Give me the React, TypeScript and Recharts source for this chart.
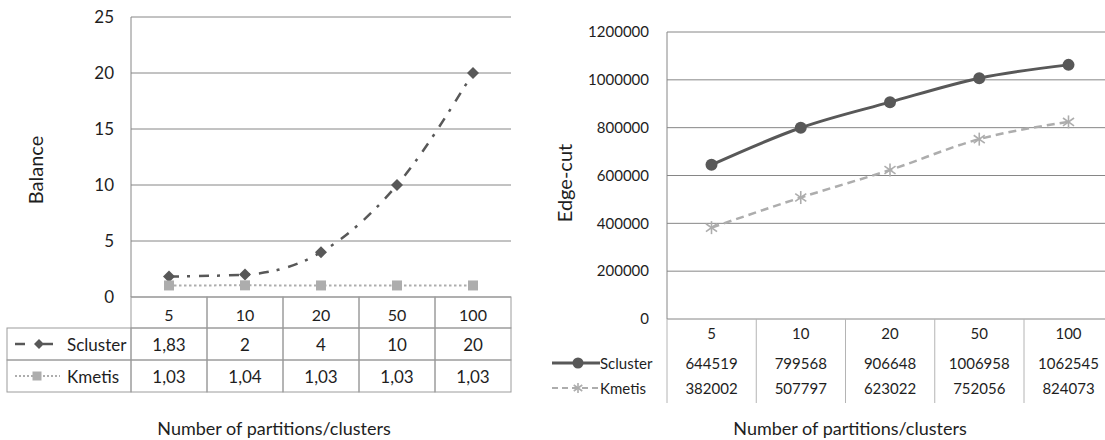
import { LineChart, Line, XAxis, YAxis, CartesianGrid } from "recharts";

const categories = ["5", "10", "20", "50", "100"];
const seriesNames = ["Scluster", "Kmetis"];

// Balance chart (left)
const balanceScluster = [1.83, 2, 4, 10, 20];
const balanceKmetis = [1.03, 1.04, 1.03, 1.03, 1.03];
const balanceTicks = [0, 5, 10, 15, 20, 25];

// Edge-cut chart (right)
const edgeScluster = [644519, 799568, 906648, 1006958, 1062545];
const edgeKmetis = [382002, 507797, 623022, 752056, 824073];
const edgeTicks = [0, 200000, 400000, 600000, 800000, 1000000, 1200000];

const FONT = "Lato, 'Open Sans', sans-serif";
const TEXT = "#1e1e1e";
const GRID = "#868686";
const DARK = "#585858";
const LIGHT = "#adadad";

const balanceData = categories.map((c, i) => ({
  cat: c,
  scluster: balanceScluster[i],
  kmetis: balanceKmetis[i],
}));

const edgeData = categories.map((c, i) => ({
  cat: c,
  scluster: edgeScluster[i],
  kmetis: edgeKmetis[i],
}));

const comma = (v: number) => String(v).replace(".", ",");

const Diamond = ({ cx, cy, s = 6 }: any) => (
  <path d={`M${cx},${cy - s} L${cx + s},${cy} L${cx},${cy + s} L${cx - s},${cy} Z`} fill={DARK} />
);

const Square = ({ cx, cy, s = 5 }: any) => (
  <rect x={cx - s} y={cy - s} width={s * 2} height={s * 2} fill={LIGHT} />
);

const Dot = ({ cx, cy }: any) => <circle cx={cx} cy={cy} r={6} fill={DARK} />;

const Star = ({ cx, cy, s = 6.5 }: any) => (
  <g stroke={LIGHT} strokeWidth={1.6}>
    <line x1={cx} y1={cy - s} x2={cx} y2={cy + s} />
    <line x1={cx - s * 0.85} y1={cy - s * 0.6} x2={cx + s * 0.85} y2={cy + s * 0.6} />
    <line x1={cx - s * 0.85} y1={cy + s * 0.6} x2={cx + s * 0.85} y2={cy - s * 0.6} />
  </g>
);

// x-axis tick that draws the data table column under each category (left chart)
const BalanceTick = (props: any) => {
  const { x, y, payload, index } = props;
  const w = 76;
  const border = "#9c9c9c";
  const rows = [balanceScluster[index], balanceKmetis[index]];
  return (
    <g fontFamily={FONT} fill={TEXT}>
      <rect x={x - w / 2} y={y} width={w} height={31} fill="none" stroke={border} />
      <rect x={x - w / 2} y={y + 31} width={w} height={32} fill="none" stroke={border} />
      <rect x={x - w / 2} y={y + 63} width={w} height={32} fill="none" stroke={border} />
      <text x={x} y={y + 17} textAnchor="middle" dominantBaseline="central" fontSize={16}>
        {payload.value}
      </text>
      {rows.map((v, r) => (
        <text key={r} x={x} y={y + 47 + r * 32} textAnchor="middle" dominantBaseline="central" fontSize={17}>
          {comma(v)}
        </text>
      ))}
      {index === 0 && (
        <g>
          <rect x={7} y={y + 31} width={x - w / 2 - 7} height={32} fill="none" stroke={border} />
          <rect x={7} y={y + 63} width={x - w / 2 - 7} height={32} fill="none" stroke={border} />
          <line x1={15} y1={y + 47} x2={25} y2={y + 47} stroke={DARK} strokeWidth={2.5} />
          <line x1={43} y1={y + 47} x2={53} y2={y + 47} stroke={DARK} strokeWidth={2.5} />
          <Diamond cx={39} cy={y + 47} s={5} />
          <line x1={15} y1={y + 79} x2={60} y2={y + 79} stroke={LIGHT} strokeWidth={2} strokeDasharray="2 2" />
          <Square cx={37} cy={y + 79} s={4.5} />
          {seriesNames.map((n, r) => (
            <text key={n} x={67} y={y + 47 + r * 32} dominantBaseline="central" fontSize={17}>
              {n}
            </text>
          ))}
        </g>
      )}
    </g>
  );
};

// x-axis tick with the data table for the right chart (vertical dividers only)
const EdgeTick = (props: any) => {
  const { x, y, payload, index } = props;
  const w = 89;
  const border = "#b4b4b4";
  const rows = [edgeScluster[index], edgeKmetis[index]];
  return (
    <g fontFamily={FONT} fill={TEXT}>
      <line x1={x - w / 2} y1={y} x2={x - w / 2} y2={y + 84} stroke={border} />
      <text x={x} y={y + 14} textAnchor="middle" dominantBaseline="central" fontSize={15}>
        {payload.value}
      </text>
      {rows.map((v, r) => (
        <text key={r} x={x} y={y + 44 + r * 25} textAnchor="middle" dominantBaseline="central" fontSize={15}>
          {v}
        </text>
      ))}
      {index === 0 && (
        <g>
          <line x1={-3} y1={y + 28} x2={-3} y2={y + 81} stroke={border} />
          <line x1={2} y1={y + 44} x2={50} y2={y + 44} stroke={DARK} strokeWidth={3} />
          <circle cx={28} cy={y + 44} r={5.5} fill={DARK} />
          <line x1={2} y1={y + 69} x2={50} y2={y + 69} stroke={LIGHT} strokeWidth={2} strokeDasharray="6 4" />
          <Star cx={28} cy={y + 69} s={5} />
          {seriesNames.map((n, r) => (
            <text key={n} x={50} y={y + 44 + r * 25} dominantBaseline="central" fontSize={15}>
              {n}
            </text>
          ))}
        </g>
      )}
    </g>
  );
};

const titleStyle: any = {
  position: "absolute",
  fontFamily: FONT,
  fontSize: 18,
  color: TEXT,
  whiteSpace: "nowrap",
  transform: "translate(-50%, -50%)",
};

export default function App() {
  return (
    <div style={{ position: "absolute", left: 0, top: 0, width: 1105, height: 440, background: "#fff", overflow: "hidden" }}>
      <div style={{ position: "absolute", left: 0, top: 0 }}>
        <LineChart width={550} height={440} data={balanceData} margin={{ top: 17, right: 39, bottom: 48, left: 71 }}>
          <CartesianGrid vertical={false} stroke={GRID} />
          <XAxis
            dataKey="cat"
            interval={0}
            padding={{ left: 38, right: 38 }}
            axisLine={false}
            tickLine={false}
            tickSize={0}
            tickMargin={0}
            height={95}
            tick={(p: any) => <BalanceTick {...p} />}
          />
          <YAxis
            width={60}
            domain={[0, 25]}
            ticks={balanceTicks}
            axisLine={{ stroke: GRID }}
            tickLine={false}
            tickSize={0}
            tickMargin={17}
            tick={{ fill: TEXT, fontSize: 17, fontFamily: FONT }}
          />
          <Line
            dataKey="scluster"
            type="monotone"
            stroke={DARK}
            strokeWidth={2.5}
            strokeDasharray="10 8 3 9"
            dot={(p: any) => <Diamond key={p.index} cx={p.cx} cy={p.cy} />}
            isAnimationActive={false}
          />
          <Line
            dataKey="kmetis"
            type="monotone"
            stroke={LIGHT}
            strokeWidth={2}
            strokeDasharray="2.5 2.5"
            dot={(p: any) => <Square key={p.index} cx={p.cx} cy={p.cy} />}
            isAnimationActive={false}
          />
        </LineChart>
      </div>
      <div style={{ ...titleStyle, fontSize: 20, left: 35, top: 170, transform: "translate(-50%, -50%) rotate(-90deg)" }}>Balance</div>
      <div style={{ ...titleStyle, left: 274, top: 428 }}>Number of partitions/clusters</div>

      <div style={{ position: "absolute", left: 550, top: 0 }}>
        <LineChart width={600} height={440} data={edgeData} margin={{ top: 32, right: 37, bottom: 37, left: 57 }}>
          <CartesianGrid vertical={false} stroke={GRID} />
          <XAxis
            dataKey="cat"
            interval={0}
            padding={{ left: 44.5, right: 44.5 }}
            axisLine={false}
            tickLine={false}
            tickSize={0}
            tickMargin={0}
            height={84}
            tick={(p: any) => <EdgeTick {...p} />}
          />
          <YAxis
            width={60}
            domain={[0, 1200000]}
            ticks={edgeTicks}
            axisLine={{ stroke: GRID }}
            tickLine={false}
            tickSize={0}
            tickMargin={18}
            tick={{ fill: TEXT, fontSize: 15, fontFamily: FONT }}
          />
          <Line
            dataKey="scluster"
            type="monotone"
            stroke={DARK}
            strokeWidth={3}
            dot={(p: any) => <Dot key={p.index} cx={p.cx} cy={p.cy} />}
            isAnimationActive={false}
          />
          <Line
            dataKey="kmetis"
            type="monotone"
            stroke={LIGHT}
            strokeWidth={2.5}
            strokeDasharray="8 5"
            dot={(p: any) => <Star key={p.index} cx={p.cx} cy={p.cy} />}
            isAnimationActive={false}
          />
        </LineChart>
      </div>
      <div style={{ ...titleStyle, fontSize: 20, left: 564, top: 183, transform: "translate(-50%, -50%) rotate(-90deg)" }}>Edge-cut</div>
      <div style={{ ...titleStyle, left: 850, top: 428 }}>Number of partitions/clusters</div>
    </div>
  );
}
